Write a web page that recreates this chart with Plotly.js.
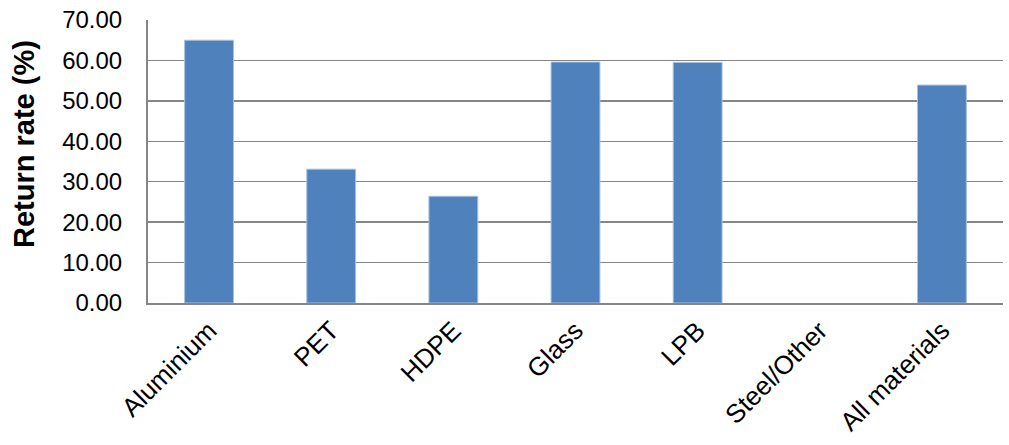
<!DOCTYPE html>
<html>
<head>
<meta charset="utf-8">
<script src="https://cdn.plot.ly/plotly-3.0.1.min.js"></script>
<style>html,body{margin:0;padding:0;background:#fff;}#chart{width:1009px;height:445px;}</style>
</head>
<body>
<div id="chart"></div>
<script>
const categories = ["Aluminium", "PET", "HDPE", "Glass", "LPB", "Steel/Other", "All materials"];
const returnRate = [65.0, 33.1, 26.4, 59.6, 59.5, null, 53.9];
const yTicks = [0, 10, 20, 30, 40, 50, 60, 70];
const yTickLabels = ["0.00", "10.00", "20.00", "30.00", "40.00", "50.00", "60.00", "70.00"];
const yTitle = "Return rate (%)";

const trace = {
  type: "bar",
  x: categories,
  y: returnRate,
  marker: { color: "#4F81BD", line: { color: "#A7C0DE", width: 1 } },
  hoverinfo: "x+y"
};

const layout = {
  width: 1009,
  height: 445,
  margin: { l: 148, r: 6, t: 20, b: 142 },
  paper_bgcolor: "#ffffff",
  plot_bgcolor: "#ffffff",
  bargap: 0.6,
  showlegend: false,
  font: { family: "Liberation Sans, Arial, sans-serif", color: "#000000" },
  xaxis: {
    type: "category",
    tickangle: -45,
    tickfont: { size: 26, family: "Liberation Sans, Arial, sans-serif", color: "#000" },
    showline: true,
    linecolor: "#868686",
    linewidth: 2,
    ticks: "",
    showgrid: false,
    zeroline: false
  },
  yaxis: {
    range: [0, 70],
    tickvals: yTicks,
    ticktext: yTickLabels,
    tickfont: { size: 24, family: "Liberation Sans, Arial, sans-serif", color: "#000" },
    ticklabelstandoff: 19,
    showline: true,
    linecolor: "#868686",
    linewidth: 2,
    ticks: "",
    ticklen: 0,
    showgrid: true,
    gridcolor: "#868686",
    gridwidth: 1.5,
    zeroline: false
  },
  annotations: [{
    text: "<b>" + yTitle + "</b>",
    textangle: -90,
    xref: "paper", yref: "paper",
    x: -0.145, y: 0.562,
    xanchor: "center", yanchor: "middle",
    showarrow: false,
    font: { size: 29, family: "Liberation Sans, Arial, sans-serif", color: "#000" }
  }]
};

Plotly.newPlot("chart", [trace], layout, { displayModeBar: false, staticPlot: true });
</script>
</body>
</html>
